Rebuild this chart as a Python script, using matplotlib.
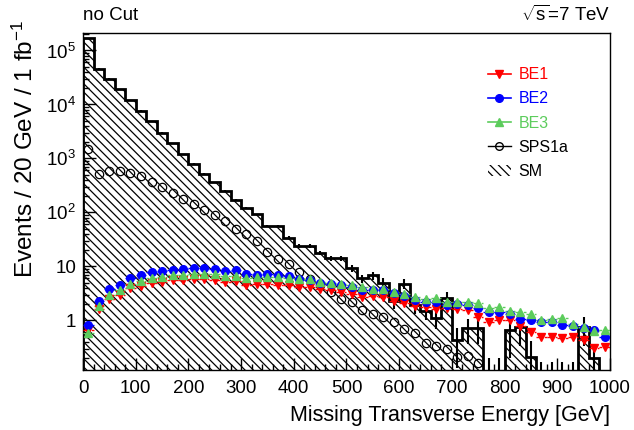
"""
Missing transverse energy, no cut: SM background vs. SPS1a and BE benchmarks.
"""

import numpy as np
import matplotlib
matplotlib.use("Agg")
import matplotlib.pyplot as plt
from matplotlib.lines import Line2D
from matplotlib.patches import Patch
from matplotlib.ticker import FixedLocator, FuncFormatter, MultipleLocator


# ---------------------------------------------------------------------------
# Data (20 GeV bins, 0-1000 GeV)
# ---------------------------------------------------------------------------

bin_edges = np.arange(0, 1001, 20)

sm = [1.7e5, 4.6e4, 3.0e4, 1.9e4, 1.2e4, 7.7e3, 4.9e3, 3.0e3, 1.9e3, 1.2e3,
      800, 520, 360, 250, 170, 123, 92, 57, 57, 34,
      24, 24, 18, 14, 14, 9.2, 6.0, 6.8, 5.0, 2.3,
      4.8, 1.9, 1.5, 1.1, 2.6, 0.43, 0.71, 0.71, 0, 0,
      0.65, 0.74, 0.21, 0, 0, 0, 0, 0.74, 0.2, 0]

sm_err = [1.7e3, 460, 300, 190, 120, 77, 49, 30, 19, 12,
          10, 8, 6, 5, 4, 3.5, 3, 2.5, 2.5, 2,
          2, 2, 1.6, 1.4, 1.4, 1.2, 1.0, 1.1, 1.0, 0.7,
          1.0, 0.6, 0.5, 0.4, 0.8, 0.3, 0.35, 0.35, 0.2, 0.2,
          0.45, 0.4, 0.2, 0.17, 0.17, 0.17, 0.17, 0.4, 0.15, 0]

sps1a = [1500, 521, 575, 580, 543, 470, 364, 295, 229, 174,
         145, 112, 88, 68, 50, 39, 29, 18.4, 13.9, 10.9,
         7.85, 5.9, 4.45, 3.34, 2.52, 2.18, 1.58, 1.33, 1.15, 0.93,
         0.70, 0.58, 0.38, 0.34, 0.29, 0.21, 0.22, 0.16, np.nan, np.nan,
         np.nan, np.nan, np.nan, np.nan, np.nan, np.nan, np.nan, np.nan, np.nan, np.nan]

be1 = [0.65, 1.6, 2.5, 2.9, 3.9, 4.3, 5.0, 5.1, 5.5, 5.5,
       5.9, 5.8, 5.7, 5.2, 5.3, 4.6, 4.8, 4.8, 4.45, 4.45,
       4.1, 4.1, 3.86, 3.6, 3.34, 3.1, 2.7, 2.8, 2.7, 2.28,
       2.09, 1.82, 1.78, 1.65, 1.67, 1.6, 1.53, 1.15, 0.93, 1.0,
       1.0, 0.77, 0.61, 0.5, 0.5, 0.48, 0.5, 0.43, 0.31, 0.32]

be2 = [0.83, 2.25, 3.75, 4.6, 6.1, 6.8, 7.85, 8.1, 8.7, 8.8,
       9.4, 9.3, 9.1, 8.2, 8.4, 7.3, 6.8, 7.1, 6.8, 6.5,
       5.9, 5.5, 4.9, 4.8, 4.45, 4.1, 3.6, 3.6, 3.6, 3.2,
       2.78, 2.42, 2.18, 2.2, 1.95, 2.0, 1.9, 1.72, 1.43, 1.43,
       1.33, 1.07, 1.03, 0.93, 0.93, 0.81, 0.77, 0.73, 0.65, 0.49]

be3 = [0.57, 1.85, 3.0, 3.6, 4.8, 5.3, 6.1, 6.3, 6.8, 6.9,
       7.3, 7.2, 7.1, 6.5, 6.7, 6.0, 6.3, 6.4, 6.3, 6.2,
       5.8, 5.9, 5.1, 5.0, 4.8, 4.45, 4.1, 3.86, 3.8, 3.34,
       3.1, 2.7, 2.52, 2.55, 2.18, 2.2, 2.18, 2.09, 1.72, 1.75,
       1.49, 1.43, 1.33, 1.03, 1.05, 1.1, 0.85, 0.74, 0.63, 0.65]

series_names = ["BE1", "BE2", "BE3", "SPS1a", "SM"]


# ---------------------------------------------------------------------------
# Style
# ---------------------------------------------------------------------------

plt.rcParams["font.family"] = ["Liberation Sans", "DejaVu Sans"]
plt.rcParams["mathtext.fontset"] = "custom"
plt.rcParams["mathtext.rm"] = "Liberation Sans"
plt.rcParams["mathtext.it"] = "Liberation Sans:italic"
plt.rcParams["mathtext.default"] = "regular"
plt.rcParams["hatch.linewidth"] = 0.9

RED = "#ff0000"
BLUE = "#0000ff"
GREEN = "#5ccc5c"
MS = 5.5

YMIN, YMAX = 0.12, 2.1e5
FLOOR = 1e-3  # stand-in for empty bins on the log axis

fig = plt.figure(figsize=(6.34, 4.30), dpi=100)
ax = fig.add_axes([0.131, 0.1395, 0.831, 0.7835])

centers = 0.5 * (bin_edges[:-1] + bin_edges[1:])
half_w = 0.5 * np.diff(bin_edges)

# SM background: hatched histogram + outline + stat errors
sm_arr = np.array(sm, dtype=float)
sm_plot = np.where(sm_arr > 0, sm_arr, FLOOR)
ax.stairs(sm_plot, bin_edges, baseline=FLOOR, fill=True, facecolor="none",
          edgecolor="black", hatch="\\\\\\\\", linewidth=0, zorder=1)
ax.stairs(sm_plot, bin_edges, baseline=FLOOR, color="black", linewidth=2.0,
          zorder=2)
sm_err_arr = np.array(sm_err, dtype=float)
lo = np.where(sm_arr > 0, np.clip(sm_arr - sm_err_arr, FLOOR, None), FLOOR)
hi = sm_arr + sm_err_arr
ax.vlines(centers, lo, hi, color="black", linewidth=1.5, zorder=2)

# SPS1a
ax.plot(centers, sps1a, linestyle="none", marker="o", markersize=6,
        markerfacecolor="none", markeredgecolor="black", markeredgewidth=0.9,
        zorder=3)

# BE benchmarks
for vals, col, mk in [(be1, RED, "v"), (be2, BLUE, "o"), (be3, GREEN, "^")]:
    eb = ax.errorbar(centers, vals, xerr=half_w, linestyle="none", marker=mk,
                     markersize=MS, color=col, markeredgecolor=col,
                     elinewidth=1.0, capsize=0, zorder=4)
    for coll in eb[2]:
        coll.set_linestyle((0, (2, 1)))

# ---------------------------------------------------------------------------
# Axes
# ---------------------------------------------------------------------------

ax.set_yscale("log")
ax.set_xlim(0, 1000)
ax.set_ylim(YMIN, YMAX)

ax.xaxis.set_major_locator(MultipleLocator(100))
ax.xaxis.set_minor_locator(MultipleLocator(20))

decades = [1, 10, 1e2, 1e3, 1e4, 1e5]
ax.yaxis.set_major_locator(FixedLocator(decades))
minor = [m * d for d in [0.1] + decades for m in range(2, 10)]
ax.yaxis.set_minor_locator(FixedLocator(minor))


def ylab(v, _pos):
    if v < 5:
        return "1"
    if v < 50:
        return "10"
    return r"$10^{%d}$" % round(np.log10(v))


ax.yaxis.set_major_formatter(FuncFormatter(ylab))
ax.yaxis.set_minor_formatter(FuncFormatter(lambda v, p: ""))

ax.tick_params(which="both", direction="in", top=False, right=False,
               labelsize=13.5, width=1.0)
ax.tick_params(which="major", length=9)
ax.tick_params(which="minor", length=4.5)
ax.tick_params(axis="x", pad=7)
ax.tick_params(axis="y", pad=5)
for sp in ax.spines.values():
    sp.set_linewidth(1.0)

ax.set_xlabel("Missing Transverse Energy [GeV]", fontsize=15.5, loc="right",
              labelpad=6)
ax.set_ylabel("Events / 20 GeV / 1 fb$^{-1}$", fontsize=17.5, loc="top")
ax.yaxis.set_label_coords(-0.085, 1.04, transform=ax.transAxes)
ax.yaxis.label.set_horizontalalignment("right")

fig.text(0.131, 0.965, "no Cut", fontsize=13.5, ha="left", va="center")
fig.text(0.962, 0.965, r"$\sqrt{s}$=7 TeV", fontsize=13.5, ha="right",
         va="center")

# ---------------------------------------------------------------------------
# Legend
# ---------------------------------------------------------------------------

handles = [
    Line2D([], [], color=RED, marker="v", markersize=MS, linewidth=1.2),
    Line2D([], [], color=BLUE, marker="o", markersize=MS, linewidth=1.2),
    Line2D([], [], color=GREEN, marker="^", markersize=MS, linewidth=1.2),
    Line2D([], [], color="black", marker="o", markersize=MS, linewidth=1.0,
           markerfacecolor="none"),
    Patch(facecolor="none", edgecolor="black", hatch="\\\\\\\\", linewidth=0),
]
leg = ax.legend(handles, series_names, loc="upper left",
                bbox_to_anchor=(0.757, 0.918), frameon=False, fontsize=11.5,
                handlelength=1.4, handletextpad=0.5, labelspacing=0.58,
                borderaxespad=0)
for txt, col in zip(leg.get_texts(), [RED, BLUE, GREEN, "black", "black"]):
    txt.set_color(col)

fig.savefig("out.png", dpi=100)
